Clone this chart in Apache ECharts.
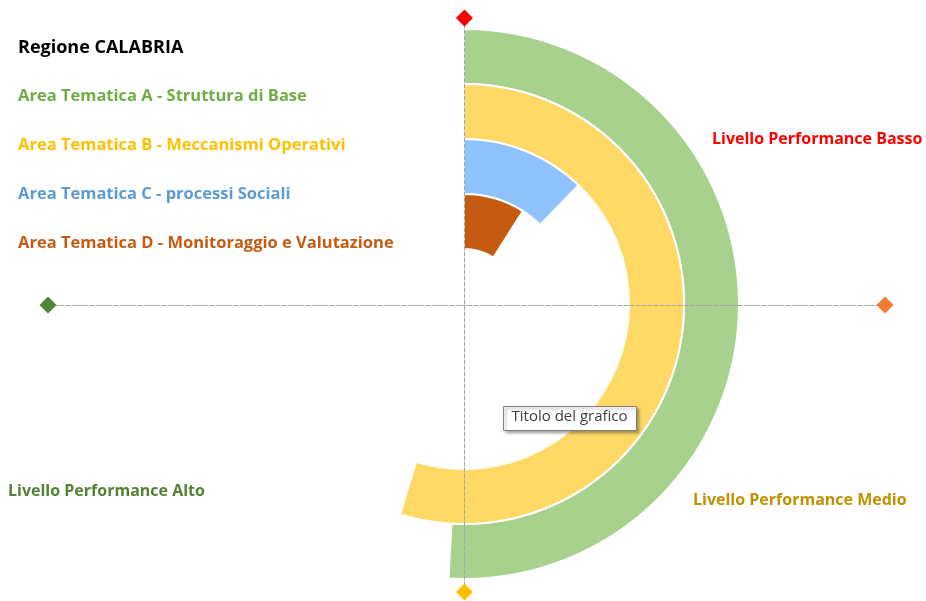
<!DOCTYPE html>
<html>
<head>
<meta charset="utf-8">
<script src="https://cdn.jsdelivr.net/npm/echarts@6/dist/echarts.min.js"></script>
<style>
html,body{margin:0;padding:0;background:#fff}
#main{width:926px;height:601px}
</style>
</head>
<body>
<div id="main"></div>
<script>
// anelli (dall'interno verso l'esterno): vuoto, D, C, B, A
var rings = ['', 'D', 'C', 'B', 'A'];
var areaNames = ['Area Tematica A - Struttura di Base', 'Area Tematica B - Meccanismi Operativi', 'Area Tematica C - processi Sociali', 'Area Tematica D - Monitoraggio e Valutazione'];
var areaRing = ['A', 'B', 'C', 'D'];
var areaValues = [50.9, 54.7, 12.2, 9.0]; // % del giro
var areaColors = ['#A9D18E', '#FFD966', '#8EC3FF', '#C55A11'];
var legendColors = ['#70AD47', '#FFC000', '#5B9BD5', '#C55A11'];

// punti dei livelli (rombi agli estremi degli assi)
var levelX = [0, 1.01, 0, -1];
var levelY = [1, 0, -1, 0];
var levelColors = ['#FF0000', '#ED7D31', '#FFC000', '#548235'];
var levelLabels = ['Livello Performance Basso', 'Livello Performance Medio', 'Livello Performance Alto'];
var levelLabelColors = ['#FF0000', '#BF9000', '#548235'];

var font = '"Open Sans", sans-serif';

var series = [];
for (var i = 0; i < areaNames.length; i++) {
	var d = [];
	for (var r = 0; r < rings.length; r++) {
		d.push(rings[r] == areaRing[i] ? areaValues[i] : null);
	}
	series.push({
		name: areaNames[i],
		type: 'bar',
		coordinateSystem: 'polar',
		stack: 'anelli',
		barCategoryGap: '0%',
		data: d,
		itemStyle: {
			color: areaColors[i],
			borderColor: '#fff',
			borderWidth: 2
		},
		z: 2
	});
}

var pts = [];
for (var k = 0; k < levelX.length; k++) {
	pts.push({value: [levelX[k], levelY[k]], itemStyle: {color: levelColors[k], opacity: 1}});
}
series.push({
	name: 'livelli',
	type: 'scatter',
	xAxisIndex: 0,
	yAxisIndex: 0,
	symbol: 'diamond',
	symbolSize: 17,
	data: pts,
	z: 10
});

var legendData = [];
for (var j = 0; j < areaNames.length; j++) {
	legendData.push({name: areaNames[j], textStyle: {color: legendColors[j]}});
}

var option = {
	animation: false,
	backgroundColor: '#fff',
	title: {
		text: 'Regione CALABRIA',
		left: 13,
		top: 34,
		textStyle: {fontFamily: font, fontWeight: 'bold', fontSize: 18, color: '#000'}
	},
	legend: {
		orient: 'vertical',
		left: 8,
		top: 83,
		icon: 'none',
		itemWidth: 0,
		itemHeight: 16,
		itemGap: 32,
		selectedMode: false,
		data: legendData,
		textStyle: {fontFamily: font, fontWeight: 'bold', fontSize: 16.5}
	},
	polar: {
		center: [464, 304],
		radius: [0, 275]
	},
	angleAxis: {
		type: 'value',
		min: 0,
		max: 100,
		startAngle: 90,
		clockwise: true,
		show: false
	},
	radiusAxis: {
		type: 'category',
		data: rings,
		show: false
	},
	grid: {left: 48, right: 41, top: 18, bottom: 9},
	xAxis: {
		type: 'value', min: -1, max: 1.01, z: 5,
		axisLine: {lineStyle: {color: '#A6A6A6', type: 'dashed', width: 1}},
		axisTick: {show: false}, axisLabel: {show: false}, splitLine: {show: false}
	},
	yAxis: {
		type: 'value', min: -1, max: 1, z: 5,
		axisLine: {lineStyle: {color: '#A6A6A6', type: 'dashed', width: 1}},
		axisTick: {show: false}, axisLabel: {show: false}, splitLine: {show: false}
	},
	graphic: [
		{type: 'text', left: 712, top: 131, z: 20,
			style: {text: levelLabels[0], fill: levelLabelColors[0], font: 'bold 16px ' + font}},
		{type: 'text', left: 693, top: 492, z: 20,
			style: {text: levelLabels[1], fill: levelLabelColors[1], font: 'bold 16px ' + font}},
		{type: 'text', left: 8, top: 483, z: 20,
			style: {text: levelLabels[2], fill: levelLabelColors[2], font: 'bold 16px ' + font}},
		{type: 'group', left: 503, top: 406, z: 30, children: [
			{type: 'rect', z: 30, shape: {x: 0, y: 0, width: 133, height: 24},
				style: {fill: '#fff', stroke: '#7F7F7F', lineWidth: 1, shadowBlur: 3, shadowOffsetX: 2, shadowOffsetY: 2, shadowColor: 'rgba(0,0,0,0.35)'}},
			{type: 'text', z: 31, x: 8, y: 3,
				style: {text: 'Titolo del grafico', fill: '#404040', font: '15px ' + font}}
		]}
	],
	series: series
};

var myChart = echarts.init(document.getElementById('main'));
myChart.setOption(option);
</script>
</body>
</html>
